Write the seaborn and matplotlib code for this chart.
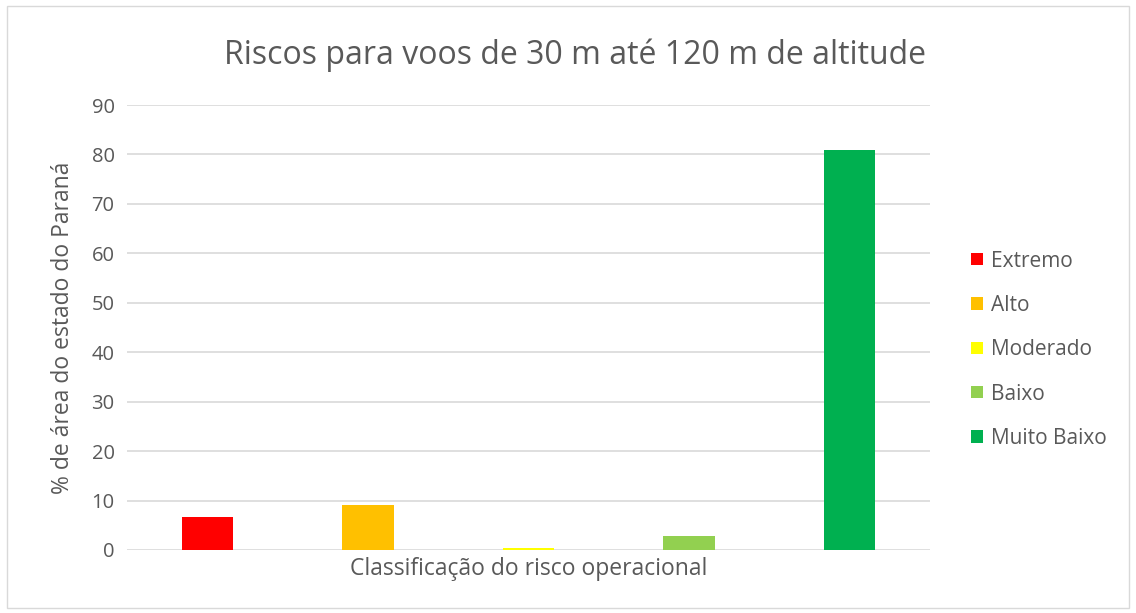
import matplotlib.pyplot as plt
import pandas as pd
import seaborn as sns
from matplotlib.patches import Rectangle

TITLE = "Riscos para voos de 30 m até 120 m de altitude"
CATEGORY = "Classificação do risco operacional"
Y_LABEL = "% de área do estado do Paraná"
RISK_LEVELS = ["Extremo", "Alto", "Moderado", "Baixo", "Muito Baixo"]
AREA_PCT = [6.7, 9.0, 0.5, 2.8, 81.0]
COLORS = ["#FF0000", "#FFC000", "#FFFF00", "#92D050", "#00B050"]
Y_TICKS = [0, 10, 20, 30, 40, 50, 60, 70, 80, 90]

TEXT_GRAY = "#595959"
GRID_GRAY = "#D9D9D9"

sns.set_style("white")
plt.rcParams["font.family"] = ["Open Sans", "DejaVu Sans"]

df = pd.DataFrame({"categoria": [CATEGORY] * len(RISK_LEVELS), "risco": RISK_LEVELS, "area": AREA_PCT})

fig = plt.figure(figsize=(11.36, 6.13), dpi=100)
ax = fig.add_axes([0.1118, 0.1028, 0.8187 - 0.1118, 0.8287 - 0.1028])

sns.barplot(
    data=df, x="categoria", y="area", hue="risco", hue_order=RISK_LEVELS,
    palette=COLORS, width=1.0, gap=0.68, saturation=1, linewidth=0,
    ax=ax, legend=True, zorder=3,
)

ax.set_xlim(-0.5, 0.5)
ax.set_ylim(0, 90)
ax.set_yticks(Y_TICKS)
ax.grid(axis="y", color=GRID_GRAY, linewidth=1.2, zorder=0)
ax.set_axisbelow(True)
for side in ["left", "right", "top", "bottom"]:
    ax.spines[side].set_visible(False)
for bar in ax.patches:
    bar.set_clip_on(False)
ax.tick_params(axis="both", length=0, labelsize=14.5, labelcolor=TEXT_GRAY, pad=9)
ax.tick_params(axis="x", labelsize=16.5, pad=5)
ax.set_xlabel("")
ax.set_ylabel(Y_LABEL, fontsize=16.5, color=TEXT_GRAY, labelpad=12)

fig.text(0.506, 0.91, TITLE, ha="center", va="center", fontsize=23, color=TEXT_GRAY)

handles, labels = ax.get_legend_handles_labels()
leg = ax.legend(
    handles, labels, loc="center left", bbox_to_anchor=(1.028, 0.45), frameon=False,
    fontsize=15, labelcolor=TEXT_GRAY, handlelength=0.55, handleheight=0.55,
    handletextpad=0.4, labelspacing=1.12,
)

fig.patches.append(Rectangle((0.006, 0.008), 0.988, 0.982, transform=fig.transFigure,
                             fill=False, edgecolor=GRID_GRAY, linewidth=1))

fig.savefig("out.png", dpi=100)
